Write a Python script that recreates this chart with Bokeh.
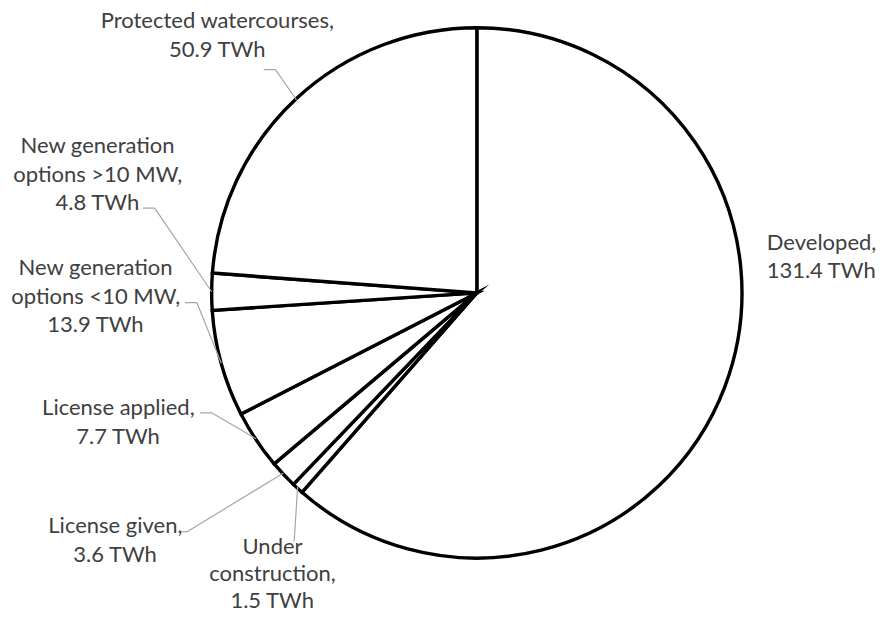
import math
from bokeh.plotting import figure
from bokeh.models import ColumnDataSource, Range1d
from bokeh.core.properties import value
from bokeh.embed import file_html
from bokeh.resources import INLINE

# ---- data ----
categories = ["Developed", "Under construction", "License given", "License applied",
              "New generation options <10 MW", "New generation options >10 MW",
              "Protected watercourses"]
values_twh = [131.4, 1.5, 3.6, 7.7, 13.9, 4.8, 50.9]
label_texts = [
    ["Developed,", "131.4 TWh"],
    ["Under", "construction,", "1.5 TWh"],
    ["License given,", "3.6 TWh"],
    ["License applied,", "7.7 TWh"],
    ["New generation", "options <10 MW,", "13.9 TWh"],
    ["New generation", "options >10 MW,", "4.8 TWh"],
    ["Protected watercourses,", "50.9 TWh"],
]

# ---- layout (reference pixel coordinates, y downward) ----
W, H = 878, 616
RW, RH = 894, 632
CX, CY, R = 485, 300, 270
label_pos = [(836, 247), (277, 559), (117, 538), (120, 417), (97, 273), (99, 148), (221, 20)]
label_step = [29.2, 28.0, 29.2, 29.2, 29.2, 29.2, 29.2]
# leader line elbows: (start point, elbow point) or None
leader_elbows = [None, [(299, 555)], [(185, 545), (190, 545)], [(203, 423), (215, 423)],
                 [(188, 310), (200, 310)], [(145, 213), (157, 213)], [(268, 71), (280, 71)]]

def Y(y):
    return RH - y

p = figure(width=W, height=H, output_backend="svg", toolbar_location=None,
           x_range=Range1d(0, RW), y_range=Range1d(0, RH),
           min_border=0, match_aspect=False)
p.axis.visible = False
p.grid.visible = False
p.outline_line_color = None
p.background_fill_color = "white"
p.border_fill_color = "white"

total = sum(values_twh)
starts, ends, mids = [], [], []
cum = 0.0
for v in values_twh:
    a0 = cum / total * 2 * math.pi
    cum += v
    a1 = cum / total * 2 * math.pi
    # clockwise from top -> math angles
    starts.append(math.pi / 2 - a1)
    ends.append(math.pi / 2 - a0)
    mids.append((a0 + a1) / 2)

src = ColumnDataSource(dict(x=[CX] * len(values_twh), y=[Y(CY)] * len(values_twh),
                            start=starts, end=ends, cat=categories, val=values_twh))
p.wedge(x="x", y="y", radius=R, start_angle="start", end_angle="end", source=src,
        fill_color="white", line_color="black", line_width=3.4, line_join="miter")

# leader lines
for elb, m in zip(leader_elbows, mids):
    if elb is None:
        continue
    ex = CX + R * math.sin(m)
    ey = CY - R * math.cos(m)
    xs = [pt[0] for pt in elb] + [ex]
    ys = [Y(pt[1]) for pt in elb] + [Y(ey)]
    p.line(xs, ys, line_color="#a6a6a6", line_width=1.2)

# labels
tx, ty, tt = [], [], []
for lines, (lx, ly), st in zip(label_texts, label_pos, label_step):
    for i, s in enumerate(lines):
        tx.append(lx)
        ty.append(Y(ly + i * st))
        tt.append(s)
p.text(x=tx, y=ty, text=tt, text_align="center", text_baseline="middle",
       text_font=value("Lato"), text_font_size="22px", text_color="#404040")

open("out.html", "w").write(file_html(p, INLINE))
